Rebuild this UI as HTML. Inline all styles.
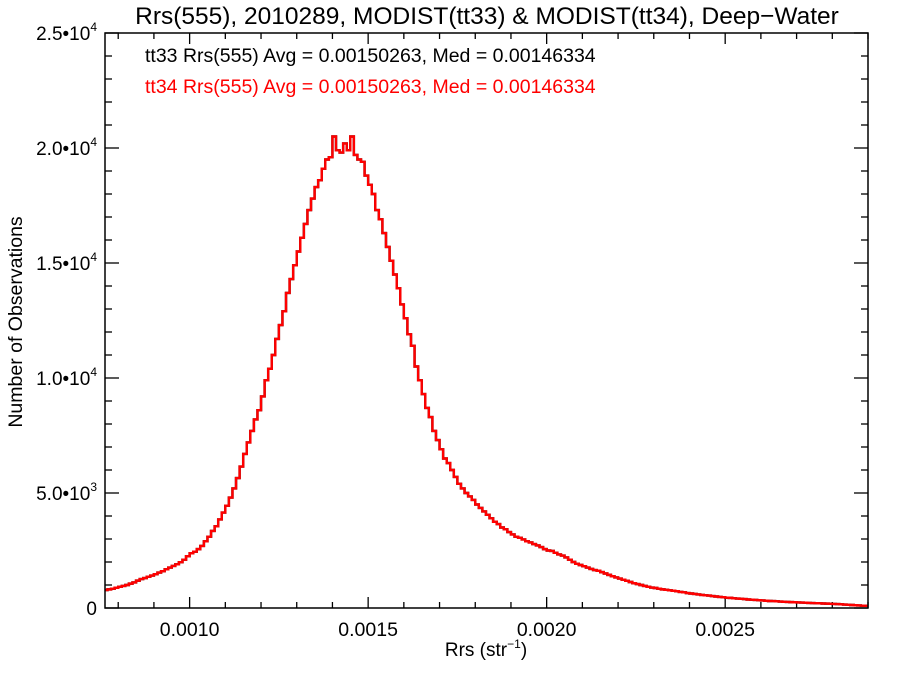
<!DOCTYPE html>
<html><head><meta charset="utf-8">
<style>
html,body{margin:0;padding:0;background:#fff;}
svg{display:block;font-family:"Liberation Sans",Arial,sans-serif;}
</style></head>
<body>
<svg id="chart" width="900" height="675" viewBox="0 0 900 675" xmlns="http://www.w3.org/2000/svg">
<rect x="0" y="0" width="900" height="675" fill="#fff"/>
<text x="487" y="24" font-size="24.5" text-anchor="middle" fill="#000">Rrs(555), 2010289, MODIST(tt33) &amp; MODIST(tt34), Deep−Water</text>
<text x="145" y="62" font-size="19.5" fill="#000">tt33 Rrs(555) Avg = 0.00150263, Med = 0.00146334</text>
<text x="145" y="93" font-size="19.5" fill="#ff0000">tt34 Rrs(555) Avg = 0.00150263, Med = 0.00146334</text>
<text x="486" y="656" font-size="19" text-anchor="middle" fill="#000">Rrs (str<tspan font-size="12" dy="-8">−1</tspan><tspan dy="8">)</tspan></text>
<text transform="translate(22,322) rotate(-90)" font-size="19.5" text-anchor="middle" fill="#000">Number of Observations</text>
<g id="axes"></g>
<g id="series"></g>
<rect x="105" y="33" width="763" height="575" fill="none" stroke="#000" stroke-width="1.5"/>
</svg>
<script>
const binStart = 0.00076;
const binWidth = 0.00001;
const counts = [
780,810,840,880,920,960,1000,1060,1110,1190,
1260,1300,1360,1410,1470,1540,1600,1680,1760,1830,
1900,1990,2100,2250,2380,2450,2560,2700,2900,3100,
3350,3550,3850,4150,4450,4800,5200,5650,6150,6700,
7200,7700,8200,8600,9200,9900,10400,11000,11700,12300,
12900,13700,14300,14900,15500,16100,16700,17300,17800,18300,
18600,19100,19500,19600,20500,19900,19800,20200,19900,20500,
19700,19500,19400,18800,18400,18000,17300,16900,16300,15700,
15100,14500,13900,13200,12600,11900,11400,10500,9900,9300,
8700,8300,7700,7300,6900,6500,6300,6000,5700,5400,
5200,5000,4850,4700,4500,4350,4200,4050,3900,3750,
3650,3500,3420,3300,3200,3100,3050,2980,2900,2850,
2780,2720,2650,2560,2500,2480,2400,2330,2280,2200,
2100,2000,1920,1870,1820,1760,1700,1650,1620,1560,
1500,1440,1380,1330,1280,1230,1180,1130,1080,1040,
1000,960,920,890,870,840,810,790,770,750,
730,700,680,650,630,610,590,570,550,540,
520,500,480,470,450,440,420,410,400,390,
370,360,350,340,330,315,305,300,290,280,
270,265,255,250,240,235,230,220,215,210,
205,195,190,180,175,170,160,150,140,130,120,110,100,95
];
const xTickValues = [0.0010, 0.0015, 0.0020, 0.0025];
const xTickLabels = ["0.0010", "0.0015", "0.0020", "0.0025"];
const yTickValues = [0, 5000, 10000, 15000, 20000, 25000];
const yTickLabels = ["0", "5.0•10<3>", "1.0•10<4>", "1.5•10<4>", "2.0•10<4>", "2.5•10<4>"];

const X0 = 105, X1 = 868, Y0 = 608, Y1 = 33;
const xMin = 0.000763, xMax = 0.0029, yMin = 0, yMax = 25000;
const NS = "http://www.w3.org/2000/svg";
function xs(v){ return X0 + (v - xMin) / (xMax - xMin) * (X1 - X0); }
function ys(v){ return Y0 - (v - yMin) / (yMax - yMin) * (Y0 - Y1); }
function mk(tag, attrs){ const e = document.createElementNS(NS, tag); for (const k in attrs) e.setAttribute(k, attrs[k]); return e; }

const axes = document.getElementById('axes');
for (let i = 0; i <= 30; i++) {
  const v = Math.round((0.0007 + i * 0.0001) * 1e5) / 1e5;
  if (v < xMin || v > xMax) continue;
  const major = Math.abs(v * 2000 - Math.round(v * 2000)) < 1e-6;
  const L = major ? 11 : 6;
  const x = xs(v);
  const t1 = mk('line', {x1:x, x2:x, y1:Y0, y2:Y0 - L, stroke:'#000', 'stroke-width':1.3});
  
  
  axes.appendChild(t1);
  const t2 = mk('line', {x1:x, x2:x, y1:Y1, y2:Y1 + L, stroke:'#000', 'stroke-width':1.3});
  
  
  axes.appendChild(t2);
}
xTickValues.forEach((v, i) => {
  const t = mk('text', {x: xs(v), y: 636, 'font-size': 19.5, 'text-anchor': 'middle', fill: '#000'});
  t.textContent = xTickLabels[i];
  
  
  axes.appendChild(t);
});
for (let v = 0; v <= 25000; v += 1000) {
  const major = v % 5000 === 0;
  const L = major ? 14 : 7;
  const y = ys(v);
  const t1 = mk('line', {x1:X0, x2:X0 + L, y1:y, y2:y, stroke:'#000', 'stroke-width':1.3});
  
  
  axes.appendChild(t1);
  const t2 = mk('line', {x1:X1, x2:X1 - L, y1:y, y2:y, stroke:'#000', 'stroke-width':1.3});
  
  
  axes.appendChild(t2);
}
yTickValues.forEach((v, i) => {
  const lab = yTickLabels[i];
  const t = mk('text', {x: 97, y: ys(v) + 7, 'font-size': 19, 'text-anchor': 'end', fill: '#000'});
  const m = lab.match(/^(.*)<(.*)>$/);
  if (m) {
    t.appendChild(document.createTextNode(m[1]));
    const sp = mk('tspan', {'font-size': 12, dy: -9});
    sp.textContent = m[2];
    t.appendChild(sp);
  } else {
    t.textContent = lab;
  }
  
  
  axes.appendChild(t);
});

function stepPath(){
  let d = '';
  counts.forEach((c, i) => {
    const xa = Math.max(X0, xs(binStart + i * binWidth));
    const xb = Math.min(X1, xs(binStart + (i + 1) * binWidth));
    const y = ys(c);
    d += (i === 0 ? 'M' : 'L') + xa.toFixed(2) + ',' + y.toFixed(2) + 'L' + xb.toFixed(2) + ',' + y.toFixed(2);
  });
  return d;
}
const series = document.getElementById('series');
const p1 = mk('path', {d: stepPath(), fill: 'none', stroke: '#000', 'stroke-width': 2.4});


series.appendChild(p1);
const p2 = mk('path', {d: stepPath(), fill: 'none', stroke: '#ff0000', 'stroke-width': 2.4});


series.appendChild(p2);
</script>
</body></html>
